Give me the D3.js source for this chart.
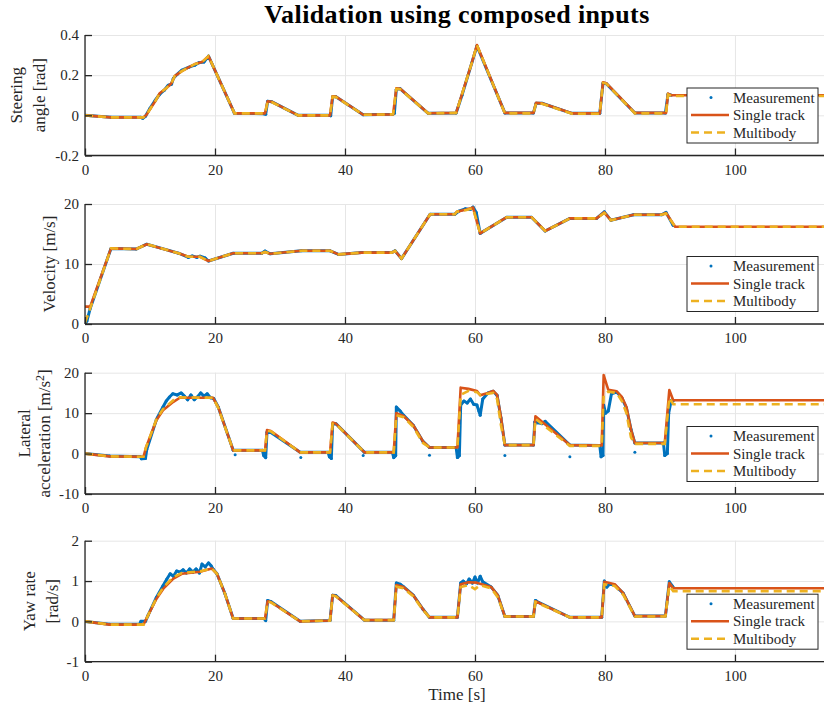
<!DOCTYPE html>
<html>
<head>
<meta charset="utf-8">
<script src="https://cdn.jsdelivr.net/npm/d3@7"></script>
<style>
  html, body { margin: 0; padding: 0; background: #fff; }
  svg { display: block; }
  svg text { font-family: "Liberation Serif", "DejaVu Serif", "Noto Serif", Times, serif; fill: #262626; }
</style>
</head>
<body>
<div id="chart"></div>
<script>
// ── Data: [time s, value] pairs ──────────────────────────────────────────────
const xTicks = [0, 20, 40, 60, 80, 100];

// Steering angle [rad]
const steerTicks = [-0.2, 0, 0.2, 0.4];
const steerTickLabels = ['-0.2', '0', '0.2', '0.4'];
const steerMeas = [[0,0],[4,-0.01],[8.6,-0.01],[8.9,-0.015],[9.3,-0.005],[10,0.035],[10.8,0.075],[11.5,0.105],[12.2,0.125],[12.8,0.15],[13.3,0.155],[13.6,0.185],[14.2,0.205],[14.9,0.225],[16,0.24],[16.9,0.25],[17.5,0.262],[18.3,0.265],[19,0.295],[23,0.01],[27.5,0.008],[27.8,0.005],[28.1,0.07],[28.7,0.068],[32.8,0],[37.6,0],[37.8,-0.002],[38.1,0.093],[38.6,0.093],[42.8,0.003],[47.3,0.005],[47.6,0.01],[47.9,0.13],[48.5,0.132],[52.8,0.01],[57.1,0.012],[58,0.1],[59.5,0.26],[60.3,0.345],[64.6,0.012],[69,0.012],[69.4,0.06],[70.3,0.06],[74.9,0.01],[79.2,0.01],[79.7,0.16],[80.2,0.158],[84.6,0.012],[89.3,0.012],[89.7,0.105],[90.2,0.1]];
const steerST = [[0,0],[4,-0.01],[9,-0.01],[9.4,0],[10,0.03],[10.8,0.07],[11.5,0.11],[12.5,0.135],[13.3,0.16],[13.8,0.195],[14.9,0.22],[16,0.24],[16.9,0.255],[18,0.265],[19,0.295],[23,0.01],[27.7,0.01],[28.1,0.07],[28.7,0.068],[32.8,0],[37.7,0],[38.1,0.095],[38.6,0.093],[42.8,0.003],[47.4,0.005],[47.9,0.135],[48.5,0.132],[52.8,0.01],[57.1,0.012],[59.5,0.26],[60.3,0.35],[64.6,0.012],[69,0.012],[69.4,0.062],[70.3,0.06],[74.9,0.01],[79.2,0.01],[79.7,0.165],[80.2,0.16],[84.6,0.012],[89.4,0.012],[89.7,0.108],[90.2,0.1],[114,0.1]];
const steerMB = [[0,0],[4,-0.01],[9,-0.01],[9.4,0],[10,0.03],[10.8,0.07],[11.5,0.11],[12.5,0.135],[13.3,0.16],[13.8,0.195],[14.9,0.22],[16,0.24],[16.9,0.255],[18,0.265],[19,0.295],[23,0.01],[27.7,0.01],[28.1,0.068],[28.7,0.066],[32.8,0],[37.7,0],[38.1,0.093],[38.6,0.091],[42.8,0.003],[47.4,0.005],[47.9,0.132],[48.5,0.13],[52.8,0.01],[57.1,0.012],[59.5,0.26],[60.3,0.35],[64.6,0.01],[69,0.01],[69.4,0.06],[70.3,0.058],[74.9,0.008],[79.2,0.008],[79.7,0.162],[80.2,0.158],[84.6,0.01],[89.4,0.01],[89.7,0.104],[90.2,0.096],[114,0.096]];

// Velocity [m/s]
const velTicks = [0, 10, 20];
const velTickLabels = ['0', '10', '20'];
const velMeas = [[0,0.1],[0.3,0.5],[0.8,2.6],[4,12.6],[7.9,12.5],[9.5,13.3],[11.8,12.6],[14.4,11.8],[15.9,11.1],[16.5,11.35],[17.2,11.1],[17.7,11.3],[18.5,11.0],[19,10.5],[22.8,11.8],[27.2,11.8],[27.7,12.15],[28.5,11.7],[33.3,12.2],[37.7,12.2],[39,11.6],[42.6,11.9],[47.2,11.9],[47.7,12.2],[48.7,10.9],[53.1,18.3],[56.9,18.3],[57.5,18.8],[58.5,19.2],[59.3,19.1],[59.7,19.5],[60.2,18.6],[60.8,15.1],[64.9,17.8],[68.7,17.8],[70.8,15.5],[74.6,17.6],[78.7,17.6],[79.9,18.7],[80.9,17.3],[84.4,18.2],[88.7,18.2],[89.4,18.6],[90.5,16.4]];
const velST = [[0,2.9],[0.8,2.9],[4,12.6],[7.9,12.5],[9.5,13.3],[11.8,12.6],[14.4,11.8],[15.9,11.2],[17.7,11.2],[19,10.5],[22.8,11.8],[27.2,11.8],[27.7,12],[28.5,11.7],[33.3,12.2],[37.7,12.2],[39,11.6],[42.6,11.9],[47.2,11.9],[47.7,12.2],[48.7,10.9],[53.1,18.3],[56.9,18.3],[57.2,18.7],[58.7,19.1],[59.7,19.4],[60.8,15.1],[64.9,17.8],[68.7,17.8],[70.8,15.5],[74.6,17.6],[78.7,17.6],[79.9,18.6],[80.9,17.3],[84.4,18.2],[88.7,18.2],[89.4,18.5],[90.8,16.2],[114,16.2]];
const velMB = [[0,0.2],[0.8,2.6],[4,12.6],[7.9,12.5],[9.5,13.3],[11.8,12.6],[14.4,11.8],[15.9,11.2],[17.7,11.2],[19,10.5],[22.8,11.8],[27.2,11.8],[27.7,12],[28.5,11.7],[33.3,12.2],[37.7,12.2],[39,11.6],[42.6,11.9],[47.2,11.9],[47.7,12.2],[48.7,10.9],[53.1,18.3],[56.9,18.3],[57.2,18.7],[58.7,19],[59.7,19.3],[60.8,15.1],[64.9,17.8],[68.7,17.8],[70.8,15.5],[74.6,17.6],[78.7,17.6],[79.9,18.5],[80.9,17.3],[84.4,18.2],[88.7,18.2],[89.4,18.4],[90.8,16.2],[114,16.2]];

// Lateral acceleration [m/s^2]
const latTicks = [-10, 0, 10, 20];
const latTickLabels = ['-10', '0', '10', '20'];
const latMeas = [[0,0],[3.8,-0.6],[8.5,-0.8],[8.7,-1.3],[9.3,-1.2],[9.5,1],[11,8.5],[12,11.5],[12.5,13],[13,14],[13.5,14.8],[14.2,14.5],[14.8,15],[15.3,14.2],[15.8,13.3],[16.3,14.5],[16.8,13.3],[17.3,14],[17.8,15],[18.3,14.2],[18.8,14.8],[19.3,13.8],[19.8,13.6],[20.5,11.5],[22.8,0.8],[27.3,0.8],[27.5,-0.5],[27.8,-1],[28,5.3],[28.6,5.2],[33.1,0.3],[37.4,0.3],[37.6,-0.8],[37.9,-1.2],[38.1,7.3],[38.6,7.4],[43,0.3],[47.3,0.3],[47.5,-1],[47.8,-0.5],[47.9,11.5],[48.5,10.5],[49,9.5],[50.5,7],[52,3],[53,1.5],[57.1,1.5],[57.3,-1],[57.6,-0.5],[57.8,12],[58.3,13],[58.8,12.5],[59.3,13.5],[59.8,12.2],[60.3,12],[60.6,10.5],[60.8,9.5],[61.2,13.5],[62,15],[62.8,15.4],[63.4,14.4],[64,8.8],[64.6,2.1],[69,2.1],[69.2,7.8],[69.6,7.6],[70.3,7.4],[70.8,8],[74.6,2.1],[79.2,2],[79.4,-0.8],[79.7,-0.5],[79.8,12],[80.1,10],[80.5,10.5],[81,14.8],[81.8,15.2],[82.6,13.8],[83.3,11.3],[84,6],[84.6,2.6],[89,2.6],[89.2,-0.5],[89.6,0],[89.8,10],[90.2,13.2],[90.5,13]];
const latMeasDots = [[23.1,-0.3],[33.2,-1],[42.8,-0.5],[53,-0.4],[64.6,-0.5],[74.6,-0.8],[84.6,0.3]];
const latST = [[0,0],[3.8,-0.7],[9,-0.8],[9.4,1.6],[11,8.3],[12,10.7],[13.6,12.8],[14.6,13.8],[19.7,13.8],[20.5,11.5],[22.8,0.8],[27.7,0.8],[28,5.8],[28.6,5.6],[33.1,0.3],[37.7,0.3],[38.1,7.7],[38.6,7.4],[43,0.3],[47.5,0.3],[47.9,10],[49,9.3],[50.5,7],[52,3],[53,1.5],[57.3,1.5],[57.8,16.3],[59,16],[60.3,15.5],[60.8,14.4],[62,15],[62.8,15.5],[63.4,14.5],[64,9],[64.6,2.1],[69,2.1],[69.3,9.2],[74.6,2.1],[79.5,2],[79.8,19.4],[80.5,15.8],[81.8,15.4],[82.6,14],[83.3,11.5],[84,6],[84.6,2.6],[89.2,2.6],[89.9,15.7],[90.5,13.2],[114,13.2]];
const latMB = [[0,0],[3.8,-0.7],[9,-0.8],[9.4,1.6],[11,8.5],[12,11],[13.6,13.2],[14.6,13.9],[19.7,13.8],[20.5,11.3],[22.8,0.8],[27.7,0.8],[28,5.6],[28.6,5.5],[33.1,0.3],[37.7,0.3],[38.1,7.4],[38.6,7.3],[43,0.3],[47.5,0.3],[47.9,9.5],[49,9],[50.5,6.6],[52,2.6],[53,1.5],[57.3,1.5],[57.8,14.5],[59,15.5],[60.3,15.2],[60.8,14.5],[62,14.8],[62.8,15],[63.4,13.5],[64,7],[64.6,2.1],[69,2.1],[69.3,8.6],[74.6,1.9],[79.5,1.9],[79.8,14.5],[80.5,15.3],[81.8,15],[82.6,13],[83.3,10],[84,4],[84.6,2.4],[89.2,2.4],[89.9,13.8],[90.5,12.2],[114,12.2]];

// Yaw rate [rad/s]
const yawTicks = [-1, 0, 1, 2];
const yawTickLabels = ['-1', '0', '1', '2'];
const yawMeas = [[0,0],[3.8,-0.07],[8.4,-0.07],[8.6,0],[9.3,0],[9.7,0.15],[11,0.6],[12,0.88],[12.6,1.05],[13.1,1.18],[13.6,1.12],[14.1,1.25],[14.6,1.22],[15.1,1.28],[15.6,1.2],[16.1,1.3],[16.6,1.22],[17.1,1.3],[17.6,1.2],[18,1.42],[18.5,1.35],[19,1.45],[19.4,1.38],[19.7,1.3],[20.3,1.18],[21.5,0.7],[22.8,0.07],[27.5,0.07],[27.8,0.02],[28.1,0.52],[28.6,0.49],[33.1,0],[37.7,0.02],[38.1,0.65],[38.6,0.64],[43,0.03],[47.5,0.03],[47.9,0.95],[48.5,0.92],[49,0.86],[50.5,0.65],[52,0.3],[53,0.1],[57.3,0.1],[57.8,0.95],[58.2,1],[58.7,0.93],[59.1,1.05],[59.6,0.95],[60,1.1],[60.4,0.95],[60.8,1.12],[61.2,0.98],[62.5,0.85],[63.5,0.65],[64.6,0.12],[69,0.12],[69.3,0.52],[69.8,0.47],[74.6,0.1],[79.5,0.1],[79.9,1],[80.3,0.85],[80.7,0.92],[81.5,0.9],[82.8,0.7],[84.6,0.13],[89.3,0.13],[89.9,0.98],[90.5,0.85]];
const yawST = [[0,0],[3.8,-0.08],[9,-0.08],[9.7,0.15],[11,0.56],[12.05,0.81],[13.6,1.06],[14.9,1.18],[17.7,1.23],[19.5,1.31],[20.3,1.18],[21.5,0.7],[22.8,0.07],[27.7,0.07],[28.1,0.5],[28.6,0.48],[33.1,0],[37.7,0.02],[38.1,0.65],[38.6,0.63],[43,0.03],[47.5,0.03],[47.9,0.9],[49,0.85],[50.5,0.65],[52,0.3],[53,0.1],[57.3,0.1],[57.8,0.92],[59,0.97],[60.3,0.96],[60.8,0.93],[62.5,0.85],[63.5,0.65],[64.6,0.12],[69,0.12],[69.3,0.5],[74.6,0.1],[79.5,0.1],[79.9,0.98],[81.5,0.92],[82.8,0.7],[84.6,0.13],[89.3,0.13],[89.9,0.95],[90.5,0.82],[114,0.82]];
const yawMB = [[0,0],[3.8,-0.08],[9,-0.08],[9.7,0.15],[11,0.58],[12.05,0.84],[13.6,1.1],[14.9,1.2],[17.7,1.24],[19.5,1.31],[20.3,1.18],[21.5,0.7],[22.8,0.07],[27.7,0.07],[28.1,0.49],[28.6,0.47],[33.1,0],[37.7,0.02],[38.1,0.64],[38.6,0.62],[43,0.03],[47.5,0.03],[47.9,0.86],[49,0.82],[50.5,0.62],[52,0.28],[53,0.1],[57.3,0.1],[57.8,0.85],[59,0.9],[60,0.8],[60.8,0.9],[62.5,0.82],[63.5,0.6],[64.6,0.12],[69,0.12],[69.3,0.48],[74.6,0.1],[79.5,0.1],[79.9,0.92],[81.5,0.88],[82.8,0.66],[84.6,0.12],[89.3,0.12],[89.9,0.88],[90.5,0.75],[114,0.75]];

const legendNames = ['Measurement', 'Single track', 'Multibody'];

// ── Layout / styles ──────────────────────────────────────────────────────────
const W = 824, H = 709;
const xLeft = 85, xRight = 824, xMax = 113.7;
const colMeas = '#0072BD', colST = '#D95319', colMB = '#EDB120';
const axisCol = '#262626', gridCol = '#e6e6e6';
const serif = '"Liberation Serif", "DejaVu Serif", "Noto Serif", Times, serif';

const panels = [
  { top: 35, bottom: 155.5, domain: [-0.2, 0.4], ticks: steerTicks, tickLabels: steerTickLabels,
    label: [['Steering', 21.5], ['angle [rad]', 45]], meas: steerMeas, dots: [], st: steerST, mb: steerMB },
  { top: 204, bottom: 324, domain: [0, 20], ticks: velTicks, tickLabels: velTickLabels,
    label: [['Velocity [m/s]', 55]], meas: velMeas, dots: [], st: velST, mb: velMB },
  { top: 372.7, bottom: 494, domain: [-10, 20], ticks: latTicks, tickLabels: latTickLabels,
    label: [['Lateral', 30], ['acceleration [m/s', 50, '2', ']']], meas: latMeas, dots: latMeasDots, st: latST, mb: latMB },
  { top: 540.7, bottom: 661.7, domain: [-1, 2], ticks: yawTicks, tickLabels: yawTickLabels,
    label: [['Yaw rate', 34.5], ['[rad/s]', 58]], meas: yawMeas, dots: [], st: yawST, mb: yawMB },
];

const svg = d3.select('#chart').append('svg').attr('width', W).attr('height', H)
  .attr('font-family', serif);

const x = d3.scaleLinear().domain([0, xMax]).range([xLeft, xRight]);

// Title
svg.append('text')
  .attr('x', 457).attr('y', 23)
  .attr('text-anchor', 'middle')
  .style('font-size', '26px').style('font-weight', 'bold')
  .style('letter-spacing', '0.4px')
  .style('fill', '#000')
  .text('Validation using composed inputs');

panels.forEach((p, i) => {
  const y = d3.scaleLinear().domain(p.domain).range([p.bottom, p.top]);
  const g = svg.append('g');
  const clipId = 'clip-' + i;
  svg.append('clipPath').attr('id', clipId)
    .append('rect').attr('x', xLeft).attr('y', p.top).attr('width', xRight - xLeft).attr('height', p.bottom - p.top);

  // Gridlines
  g.append('g')
    .attr('transform', `translate(0,${p.bottom})`)
    .call(d3.axisBottom(x).tickValues(xTicks).tickSize(-(p.bottom - p.top)).tickFormat(''))
    .call(ax => ax.select('.domain').remove())
    .call(ax => ax.selectAll('line').attr('stroke', gridCol));
  g.append('g')
    .attr('transform', `translate(${xLeft},0)`)
    .call(d3.axisLeft(y).tickValues(p.ticks).tickSize(-(xRight - xLeft)).tickFormat(''))
    .call(ax => ax.select('.domain').remove())
    .call(ax => ax.selectAll('line').attr('stroke', gridCol));

  // Series: measurement (dots + thin trace), single track, multibody
  const line = d3.line().x(d => x(d[0])).y(d => y(d[1]));
  const plot = g.append('g').attr('clip-path', `url(#${clipId})`);
  plot.append('path').datum(p.meas)
    .attr('fill', 'none').attr('stroke', colMeas).attr('stroke-width', 3)
    .attr('stroke-linejoin', 'round').attr('d', line);
  plot.selectAll('circle.m').data(p.meas.concat(p.dots)).join('circle')
    .attr('class', 'm').attr('cx', d => x(d[0])).attr('cy', d => y(d[1])).attr('r', 1.5)
    .attr('fill', colMeas);
  plot.append('path').datum(p.st)
    .attr('fill', 'none').attr('stroke', colST).attr('stroke-width', 2.6)
    .attr('stroke-linejoin', 'round').attr('d', line);
  plot.append('path').datum(p.mb)
    .attr('fill', 'none').attr('stroke', colMB).attr('stroke-width', 2.6)
    .attr('stroke-dasharray', '8,5').attr('d', line);

  // Axes
  g.append('g')
    .attr('transform', `translate(0,${p.bottom})`)
    .call(d3.axisBottom(x).tickValues(xTicks).tickSize(-7).tickPadding(8.5).tickFormat(d3.format('d')))
    .call(ax => ax.attr('font-family', serif))
    .call(ax => ax.select('.domain').attr('d', `M${xLeft},0H${xRight}`).attr('stroke', axisCol).attr('stroke-width', 1.3))
    .call(ax => ax.selectAll('line').attr('stroke', axisCol).attr('stroke-width', 1.3))
    .call(ax => ax.selectAll('text').attr('fill', axisCol).style('font-size', '15px'));
  g.append('g')
    .attr('transform', `translate(${xLeft},0)`)
    .call(d3.axisLeft(y).tickValues(p.ticks).tickSize(-7).tickPadding(6).tickFormat((d, k) => p.tickLabels[k]))
    .call(ax => ax.attr('font-family', serif))
    .call(ax => ax.select('.domain').attr('d', `M0,${p.top}V${p.bottom}`).attr('stroke', axisCol).attr('stroke-width', 1.3))
    .call(ax => ax.selectAll('line').attr('stroke', axisCol).attr('stroke-width', 1.3))
    .call(ax => ax.selectAll('text').attr('fill', axisCol).style('font-size', '15px'));

  // Y label (one or two lines, rotated)
  const yc = (p.top + p.bottom) / 2;
  p.label.forEach(l => {
    const t = g.append('text')
      .attr('transform', `translate(${l[1]},${yc}) rotate(-90)`)
      .attr('text-anchor', 'middle')
      .style('font-size', '17px')
      .text(l[0]);
    if (l[2]) {
      t.append('tspan').attr('dy', -6).style('font-size', '12px').text(l[2]);
      t.append('tspan').attr('dy', 6).text(l[3]);
    }
  });

  // Legend
  const lg = g.append('g').attr('transform', `translate(687,${p.bottom - 67.5})`);
  lg.append('rect').attr('width', 131).attr('height', 55)
    .attr('fill', '#fff').attr('stroke', axisCol).attr('stroke-width', 1);
  const rows = [9.5, 27, 44.5];
  lg.append('circle').attr('cx', 24).attr('cy', rows[0]).attr('r', 1.5).attr('fill', colMeas);
  lg.append('line').attr('x1', 4).attr('x2', 42).attr('y1', rows[1]).attr('y2', rows[1])
    .attr('stroke', colST).attr('stroke-width', 2.6);
  lg.append('line').attr('x1', 4).attr('x2', 42).attr('y1', rows[2]).attr('y2', rows[2])
    .attr('stroke', colMB).attr('stroke-width', 2.6).attr('stroke-dasharray', '8,5');
  legendNames.forEach((n, k) => {
    lg.append('text').attr('x', 46).attr('y', rows[k]).attr('dy', '0.35em')
      .style('font-size', '15px').text(n);
  });
});

// X label
svg.append('text')
  .attr('x', 457).attr('y', 700)
  .attr('text-anchor', 'middle')
  .style('font-size', '17px')
  .text('Time [s]');
</script>
</body>
</html>
